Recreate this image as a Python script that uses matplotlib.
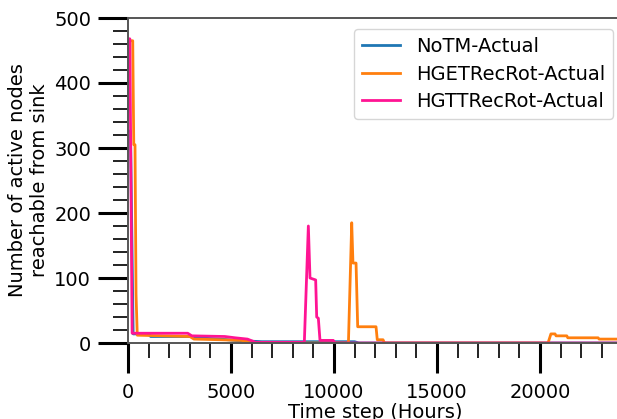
import matplotlib
matplotlib.use("Agg")
import matplotlib.pyplot as plt
from matplotlib.ticker import MultipleLocator

# ---- data ----
notm_t = [0, 120, 250, 1000, 1100, 3200, 3300, 4500, 5200, 6500, 8000, 11000, 11200, 24000]
notm_v = [326, 326, 14, 14, 10, 10, 8, 6, 4, 2, 2, 2, 0, 0]

hget_t = [0, 230, 280, 340, 390, 450, 3000, 3200, 4500, 5500, 6200, 10700, 10860, 10920, 11070, 11150,
          12040, 12100, 12380, 12450, 20390, 20530, 20730, 20780, 21300, 21350, 22820, 22870, 24000]
hget_v = [465, 465, 305, 305, 75, 12, 10, 6, 5, 4, 0, 0, 185, 123, 123, 25,
          25, 5, 5, 0, 0, 14, 14, 11, 11, 8, 8, 6, 6]

hgtt_t = [0, 90, 200, 2900, 3100, 4700, 5200, 5800, 6200, 8560, 8755, 8835, 9110, 9160, 9240, 9320,
          9965, 10050, 24000]
hgtt_v = [468, 468, 15, 15, 11, 10, 8, 6, 1, 1, 180, 100, 97, 40, 38, 4,
          4, 0, 0]

labels = ["NoTM-Actual", "HGETRecRot-Actual", "HGTTRecRot-Actual"]
colors = ["#1f77b4", "#ff7f0e", "#ff1493"]

XMAX = 24000
fig = plt.figure(figsize=(6.17, 4.19), dpi=100)
# axes extends beyond the right edge of the figure (as in reference)
right_px = 128 + XMAX / 5000 * 103
ax_w_px = right_px - 128
ax = fig.add_axes([128 / 617, 76 / 419, ax_w_px / 617, (343 - 18) / 419])

ax.plot(notm_t, notm_v, color=colors[0], lw=2, label=labels[0])
ax.plot(hget_t, hget_v, color=colors[1], lw=2, label=labels[1])
ax.plot(hgtt_t, hgtt_v, color=colors[2], lw=2, label=labels[2])

ax.set_xlim(0, XMAX)
ax.set_ylim(0, 500)
ax.xaxis.set_major_locator(MultipleLocator(5000))
ax.xaxis.set_minor_locator(MultipleLocator(1000))
ax.yaxis.set_major_locator(MultipleLocator(100))
ax.yaxis.set_minor_locator(MultipleLocator(20))

ax.tick_params(which="major", length=21.5, width=2.2, color="black", labelsize=14)
ax.tick_params(axis="y", which="major", pad=5)
ax.tick_params(axis="x", which="major", pad=7)
ax.tick_params(which="minor", length=10.5, width=1.4, color="#222222")
for s in ax.spines.values():
    s.set_color("#555555")
    s.set_linewidth(1.4)

ax.set_xlabel("Time step (Hours)", fontsize=14, labelpad=1)
ax.set_ylabel("Number of active nodes\nreachable from sink", fontsize=14)
ax.yaxis.set_label_coords((49 - 128) / ax_w_px, 0.5)

leg = ax.legend(loc="upper right", bbox_to_anchor=(613 / 617, 1 - 29 / 419),
                bbox_transform=fig.transFigure, fontsize=14, frameon=True,
                handlelength=2, borderpad=0.4, labelspacing=0.45, borderaxespad=0)
leg.get_frame().set_edgecolor("#cccccc")

fig.savefig("out.png", dpi=100)
